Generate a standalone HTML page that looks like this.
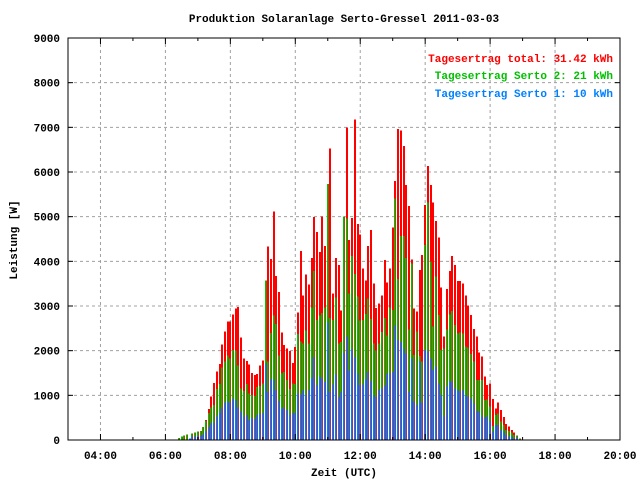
<!DOCTYPE html>
<html><head><meta charset="utf-8"><style>
body{margin:0;background:#fff}
svg{display:block}
text{font-family:"Liberation Mono",monospace;font-weight:bold;font-size:11px}
</style></head><body>
<svg id="chart" width="640" height="480">
<text x="344" y="22" text-anchor="middle">Produktion Solaranlage Serto-Gressel 2011-03-03</text>
<text x="344" y="476" text-anchor="middle">Zeit (UTC)</text>
<text transform="translate(17,240) rotate(-90)" text-anchor="middle">Leistung [W]</text>
<g id="grid"></g><g id="bars"></g><g id="axes"></g>
<g>
<text x="613" y="62" text-anchor="end" fill="#ff0000">Tagesertrag total: 31.42 kWh</text>
<text x="613" y="79" text-anchor="end" fill="#00c000">Tagesertrag Serto 2: 21 kWh</text>
<text x="613" y="97" text-anchor="end" fill="#0080ff">Tagesertrag Serto 1: 10 kWh</text>
</g>
</svg>
<script>
const startMinute = 6*60+25;
const stepMinutes = 5;
const total = [44,74,96,118,30,141,170,185,207,296,451,696,969,1273,1539,1702,2139,2427,2657,2649,2805,2945,2982,2294,1828,1769,1695,1502,1450,1473,1672,1783,3567,4336,4055,5113,3670,3315,2412,2124,2050,1991,1724,2080,2860,4235,3232,3700,3477,4079,4993,4659,4213,5008,4347,5729,6531,3277,4079,3923,2898,5008,6999,4480,4971,7177,4837,4599,3834,3566,4347,4703,3500,2950,3054,3232,4035,3522,3834,4755,5795,6962,6932,6583,5706,5238,4043,2947,2872,3805,4140,5259,6132,5707,5312,4901,4528,3409,2313,3379,3782,4118,3917,3558,3558,3499,3230,3006,2797,2484,2313,1954,1865,1417,1231,1268,918,701,843,671,515,358,298,224,172,97,37];
const serto2 = [44,74,96,118,30,141,170,185,207,296,429,599,725,784,1140,1258,1621,1761,1894,1820,2020,2005,1672,1154,1095,1251,1043,1006,984,1191,1214,1265,3567,1761,2398,2782,2597,1894,1487,1524,1339,1140,1265,1251,2378,2207,2155,2452,2155,2972,3789,2690,2786,2846,2972,5729,2734,2690,3195,2155,2192,5008,4963,3284,4124,3715,3210,2675,2690,2823,3173,2712,2155,2006,2155,2415,2727,2340,2972,2913,5402,3604,4569,4569,4072,2474,3954,1902,2425,1880,1753,4364,5312,3991,2536,3655,2798,2014,2052,2477,2812,2887,2574,2387,2402,2387,2089,2066,1925,1753,1343,1343,1343,895,910,746,313,560,597,410,336,224,201,164,112,97,37];
const serto1 = [0,0,0,0,30,74,74,90,100,118,192,289,377,377,525,599,733,836,858,836,932,895,725,636,525,562,451,488,466,562,577,599,1709,1080,1362,1354,1117,873,710,733,673,562,599,599,1040,1018,1115,1003,1115,1375,1858,1226,1427,1375,1300,2630,1077,1248,1471,966,1077,1947,2318,1560,2021,1843,1486,1226,1248,1352,1523,1323,1003,966,1115,1152,1219,1486,1486,1523,2563,2244,2192,2043,1932,1077,1828,858,783,1753,836,2014,1977,1828,1567,1641,1268,1007,522,1194,1306,1306,1156,1119,1082,1119,1007,970,932,821,649,634,522,500,522,410,186,336,336,224,186,112,75,75,37,60,0];
const yTicks = [0,1000,2000,3000,4000,5000,6000,7000,8000,9000];
const xTickLabels = ["04:00","06:00","08:00","10:00","12:00","14:00","16:00","18:00","20:00"];
const xTickHours = [4,6,8,10,12,14,16,18,20];

const L=68,R=620,T=38,B=440,H0=3,H1=20,YMAX=9000;
const ns="http://www.w3.org/2000/svg";
function xHour(h){return L+(h-H0)/(H1-H0)*(R-L);}
function y(v){return B-v/YMAX*(B-T);}
function mk(tag,attrs,parent){const e=document.createElementNS(ns,tag);for(const k in attrs)e.setAttribute(k,attrs[k]);parent.appendChild(e);return e;}
const grid=document.getElementById('grid'),bars=document.getElementById('bars'),axes=document.getElementById('axes');
yTicks.forEach(v=>{
  if(v>0&&v<YMAX){const g=mk('line',{x1:L,x2:R,y1:y(v),y2:y(v),stroke:'#a0a0a0','stroke-dasharray':'3,3'},grid);
  
  }
  const t=mk('text',{x:L-8,y:y(v)+4,'text-anchor':'end'},axes);t.textContent=String(v);
  
  
  mk('line',{x1:L,x2:L+5,y1:y(v),y2:y(v),stroke:'#000'},axes);
  mk('line',{x1:R,x2:R-5,y1:y(v),y2:y(v),stroke:'#000'},axes);
});
for(let h=H0+1;h<H1;h++){
  const major=xTickHours.includes(h);
  if(major){const g=mk('line',{x1:xHour(h),x2:xHour(h),y1:T,y2:B,stroke:'#a0a0a0','stroke-dasharray':'3,3'},grid);
  
  }
  const s=major?6:3;
  mk('line',{x1:xHour(h),x2:xHour(h),y1:B,y2:B-s,stroke:'#000'},axes);
  mk('line',{x1:xHour(h),x2:xHour(h),y1:T,y2:T+s,stroke:'#000'},axes);
}
xTickLabels.forEach((lab,i)=>{
  const t=mk('text',{x:xHour(xTickHours[i]),y:B+19,'text-anchor':'middle'},axes);t.textContent=lab;
  
  
});
const fr=mk('rect',{x:L,y:T,width:R-L,height:B-T,fill:'none',stroke:'#000'},axes);


total.forEach((v,i)=>{
  const cx=xHour((startMinute+i*stepMinutes)/60);
  const bx=Math.round(cx-1);
  [[v,'#ff0000','bar-total',1.8],[serto2[i],'#00c000','bar-serto2',1.7],[serto1[i],'#0080ff','bar-serto1',1.6]].forEach(([val,col,nm,w])=>{
    if(val<=0)return;
    const r=mk('rect',{x:bx,y:y(val),width:w,height:B-y(val),fill:col,'shape-rendering':'crispEdges'},bars);
    
    
  });
});
</script>
</body></html>
